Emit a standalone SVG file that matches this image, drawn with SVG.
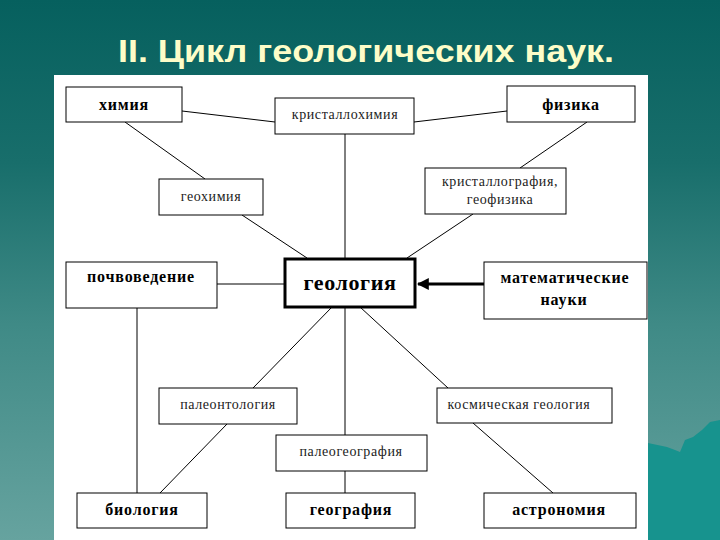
<svg xmlns="http://www.w3.org/2000/svg" width="720" height="540" viewBox="0 0 720 540">
<defs>
<linearGradient id="bg" x1="0" y1="0" x2="0" y2="1">
<stop offset="0" stop-color="#06605e"/>
<stop offset="0.3" stop-color="#186e6b"/>
<stop offset="0.6" stop-color="#3f8a86"/>
<stop offset="1" stop-color="#66a39f"/>
</linearGradient>
<marker id="arr" viewBox="0 0 10 10" refX="9" refY="5" markerWidth="4" markerHeight="4" orient="auto" markerUnits="strokeWidth">
<path d="M0,0 L10,5 L0,10 Z" fill="#000"/>
</marker>
<style>
.box{fill:#fff;stroke:#000;stroke-width:1}
.main{font-family:"Liberation Serif","Times New Roman",serif;font-weight:bold;font-size:16px;letter-spacing:0.8px;fill:#000;text-anchor:middle}
.sub{font-family:"Liberation Serif","Times New Roman",serif;font-size:14px;letter-spacing:0.6px;fill:#222;text-anchor:middle}
.ln{stroke:#000;stroke-width:1;fill:none}
</style>
</defs>
<rect x="0" y="0" width="720" height="540" fill="url(#bg)"/>
<path d="M648,443 L667,447 L675,450 L680,452 L685,440 L693,437 L702,430 L710,422 L720,420 L720,540 L648,540 Z" fill="#17938e"/>
<text x="118" y="62" textLength="496" lengthAdjust="spacingAndGlyphs" font-family="'Liberation Sans',Arial,sans-serif" font-weight="bold" font-size="32" fill="#fdfdc8">II. Цикл геологических наук.</text>
<rect x="54" y="75" width="594" height="465" fill="#fff"/>
<g id="connectors">
<line class="ln" x1="182" y1="111" x2="275" y2="122"/>
<line class="ln" x1="414" y1="122" x2="507" y2="111"/>
<line class="ln" x1="345" y1="134" x2="345" y2="259"/>
<line class="ln" x1="125" y1="122" x2="205" y2="179"/>
<line class="ln" x1="242" y1="215" x2="307" y2="258"/>
<line class="ln" x1="587" y1="122" x2="520" y2="168"/>
<line class="ln" x1="473" y1="214" x2="407" y2="258"/>
<line class="ln" x1="217" y1="284" x2="285" y2="284"/>
<line class="ln" x1="137" y1="308" x2="137" y2="493"/>
<line class="ln" x1="332" y1="307" x2="253" y2="388"/>
<line class="ln" x1="227" y1="424" x2="160" y2="493"/>
<line class="ln" x1="345" y1="307" x2="345" y2="435"/>
<line class="ln" x1="345" y1="471" x2="345" y2="493"/>
<line class="ln" x1="360" y1="307" x2="448" y2="388"/>
<line class="ln" x1="473" y1="423" x2="553" y2="493"/>
<line x1="484" y1="284" x2="418" y2="284" stroke="#000" stroke-width="3" marker-end="url(#arr)"/>
</g>
<g id="n-himiya"><rect class="box" x="66" y="87" width="116" height="35"/><text class="main" x="124" y="110">химия</text></g>
<g id="n-kristallohimiya"><rect class="box" x="275" y="98" width="139" height="36"/><text class="sub" x="345" y="119">кристаллохимия</text></g>
<g id="n-fizika"><rect class="box" x="507" y="86" width="128" height="36"/><text class="main" x="571" y="110">физика</text></g>
<g id="n-geohimiya"><rect class="box" x="159" y="179" width="104" height="36"/><text class="sub" x="211" y="201">геохимия</text></g>
<g id="n-kristallografiya"><rect class="box" x="425" y="168" width="141" height="46"/><text class="sub" x="500" y="186">кристаллография,</text><text class="sub" x="500" y="204">геофизика</text></g>
<g id="n-pochvovedenie"><rect class="box" x="66" y="262" width="151" height="46"/><text class="main" x="141" y="282">почвоведение</text></g>
<g id="n-geologiya"><rect x="285" y="259" width="130" height="48" fill="#fff" stroke="#000" stroke-width="3"/><text class="main" x="350" y="290" style="font-size:22px;letter-spacing:0.6px">геология</text></g>
<g id="n-matematicheskie"><rect class="box" x="484" y="262" width="163" height="57"/><text class="main" x="565" y="283">математические</text><text class="main" x="564" y="305">науки</text></g>
<g id="n-paleontologiya"><rect class="box" x="159" y="388" width="138" height="36"/><text class="sub" x="228" y="409">палеонтология</text></g>
<g id="n-paleogeografiya"><rect class="box" x="276" y="435" width="151" height="36"/><text class="sub" x="351" y="456">палеогеография</text></g>
<g id="n-kosmicheskaya"><rect class="box" x="437" y="388" width="175" height="35"/><text class="sub" x="519" y="409">космическая геология</text></g>
<g id="n-biologiya"><rect class="box" x="77" y="493" width="130" height="35"/><text class="main" x="142" y="515">биология</text></g>
<g id="n-geografiya"><rect class="box" x="286" y="493" width="129" height="35"/><text class="main" x="351" y="515">география</text></g>
<g id="n-astronomiya"><rect class="box" x="484" y="493" width="152" height="35"/><text class="main" x="559" y="515">астрономия</text></g>
</svg>
